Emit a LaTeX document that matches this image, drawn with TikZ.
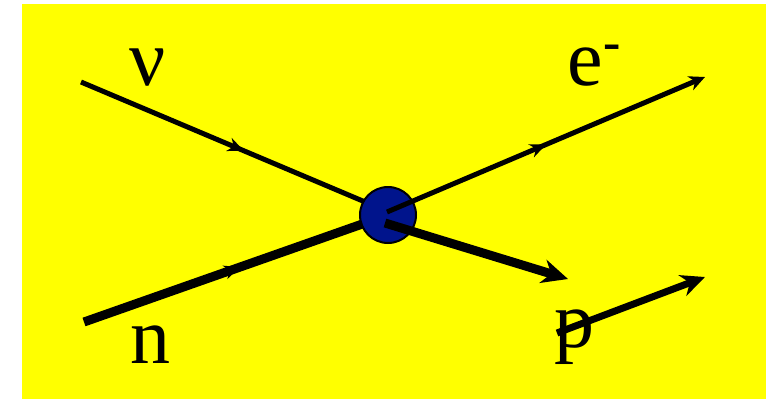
\documentclass[tikz,border=0pt]{standalone}
\usepackage{fontspec}
\setmainfont{Liberation Serif}
\usetikzlibrary{arrows.meta,decorations.markings,positioning,calc}
\definecolor{slideyellow}{RGB}{255,255,0}
\definecolor{vertexblue}{RGB}{0,20,140}
\tikzset{
    fermion/.style = {draw, line width=5pt},
    heavy/.style = {draw, line width=9pt},
    midarrow/.style = {postaction={decorate}, decoration={markings,
        mark=at position #1 with {\arrow{Stealth[length=16pt,width=14pt]}}}},
    midarrow/.default = 0.55,
    particle/.style = {font=\fontsize{80}{96}\selectfont, inner sep=0pt, anchor=base}
}

\begin{document}
\begin{tikzpicture}[x=1pt, y=-1pt]
    \useasboundingbox (0,0) rectangle (766,399);
    \fill [slideyellow] (22,4) rectangle (766,399);

    % incoming legs
    \coordinate (nuin) at (81,82);
    \coordinate (nuend) at (377,207);
    \coordinate (nin) at (84,322);
    \coordinate (nend) at (368,222);
    \path [fermion, midarrow] (nuin) -- (nuend);
    \path [heavy, midarrow] (nin) -- (nend);

    \node [draw=black, line width=2pt, fill=vertexblue, circle, minimum size=56pt] (vtx) at (388,215) {};

    % outgoing legs
    \coordinate (estart) at (387,212);
    \coordinate (eout) at (705,77);
    \coordinate (pstart) at (385,223);
    \coordinate (pout) at (568,279);
    \path [fermion, midarrow=0.5, -{Stealth[length=16pt,width=15pt]}] (estart) -- (eout);
    \path [heavy, -{Stealth[length=26pt,width=24pt]}] (pstart) -- (pout);

    \node [particle] (nu) at (148,85) {ν};
    \node [particle, anchor=base west] (el) at (567,85) {e\kern1pt\raisebox{26pt}{\fontsize{52}{52}\selectfont\bfseries -}};
    \node [particle] (n) at (150,363) {n};
    \node [particle] (p) at (574,347) {p};

    \coordinate (pbarin) at (557,333);
    \coordinate (pbarout) at (705,277);
    \path [heavy, line width=7pt, -{Stealth[length=24pt,width=22pt]}] (pbarin) -- (pbarout);
\end{tikzpicture}
\end{document}
